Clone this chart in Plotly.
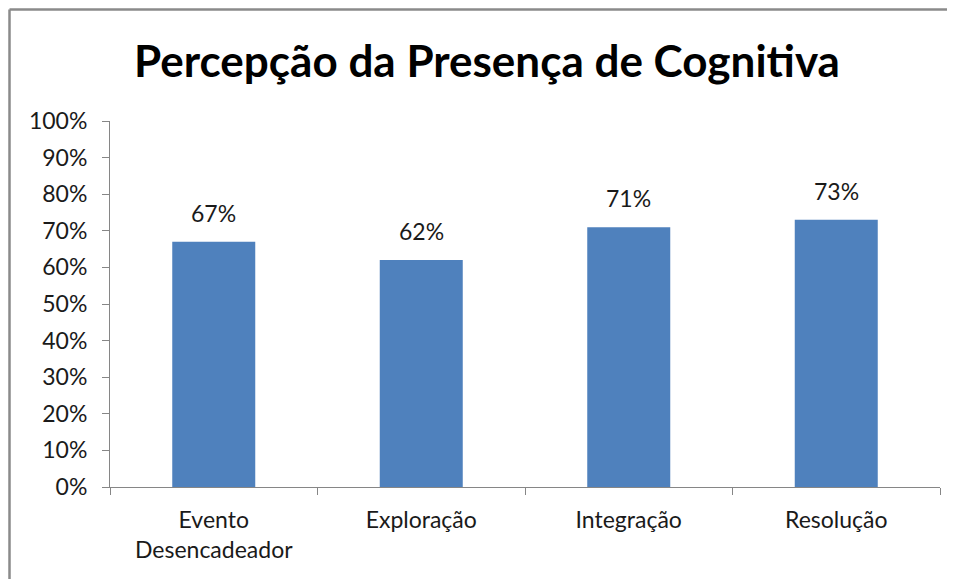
import plotly.graph_objects as go

categories = ["Evento<br>Desencadeador", "Exploração", "Integração", "Resolução"]
values = [67, 62, 71, 73]
y_ticks = list(range(0, 101, 10))
y_tick_labels = [f"{v}%" for v in y_ticks]
title_text = "Percepção da Presença de Cognitiva"

# page body has an 8px margin, so the figure is sized to fit the window
W, H = 947, 571
L, R, T, B = 102, 15, 113, 92
pw, ph = W - L - R, H - T - B

fig = go.Figure()
fig.add_trace(go.Bar(
    x=categories, y=values, width=0.4,
    marker=dict(color="#4F81BD", line=dict(width=0)),
    hoverinfo="skip",
))

for c, v in zip(categories, values):
    fig.add_annotation(x=c, y=v, text=f"{v}%", showarrow=False,
                       yanchor="bottom", yshift=13,
                       font=dict(family="Lato", size=23, color="#1a1a1a"))

# outer chart frame (only left and top edges are visible in the window)
fx = (1.5 - L) / pw
fy = (ph + T - 1.5) / ph
fig.add_shape(type="line", xref="paper", yref="paper",
              x0=fx, x1=fx, y0=-(B + 20) / ph, y1=fy,
              line=dict(color="#8a8a8a", width=2.5), layer="below")
fig.add_shape(type="line", xref="paper", yref="paper",
              x0=fx, x1=(W + 20 - L) / pw, y0=fy, y1=fy,
              line=dict(color="#8a8a8a", width=2.5), layer="below")

fig.update_layout(
    width=W, height=H,
    margin=dict(l=L, r=R, t=T, b=B),
    paper_bgcolor="white", plot_bgcolor="white",
    showlegend=False,
    title=dict(text=title_text, x=479 / W, xanchor="center", y=1 - 54 / H, yanchor="middle",
               font=dict(family="Lato", size=44, color="black", weight="bold")),
    bargap=0.6,
)
fig.update_xaxes(
    type="category", showline=True, linecolor="#868686", linewidth=1,
    ticks="outside", tickson="boundaries", ticklen=7, tickcolor="#868686",
    tickfont=dict(family="Lato", size=23, color="#1a1a1a"),
    showgrid=False, zeroline=False, ticklabelstandoff=12,
)
fig.update_yaxes(
    range=[0, 100], tickvals=y_ticks, ticktext=y_tick_labels,
    showline=True, linecolor="#868686", linewidth=1,
    ticks="outside", ticklen=7, tickcolor="#868686",
    tickfont=dict(family="Lato", size=23, color="#1a1a1a"),
    showgrid=False, zeroline=False, ticklabelstandoff=10,
)

fig.write_html("out.html", config={"displayModeBar": False})
